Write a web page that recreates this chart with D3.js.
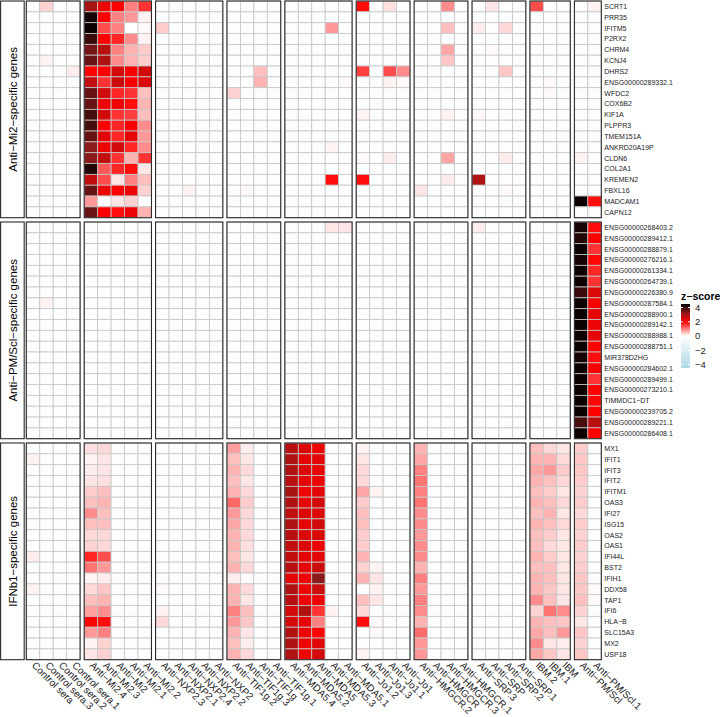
<!DOCTYPE html>
<html>
<head>
<meta charset="utf-8">
<script src="https://cdn.jsdelivr.net/npm/d3@7"></script>
<style>
body { margin: 0; background: #fff; }
svg text { font-family: "Liberation Sans", Arial, sans-serif; }
</style>
</head>
<body>
<svg id="chart" width="720" height="717"></svg>
<script>
// sample groups (column facets) and their samples, left to right
var sampleGroups = ["Control sera", "Anti-Mi2", "Anti-NXP2", "Anti-TIF1g", "Anti-MDA5", "Anti-Jo1", "Anti-HMGCR", "Anti-SRP", "IBM", "Anti-PM/Scl"];
var samples = [
    ["Control sera", "Control sera.3", "Control sera.2", "Control sera.1"],
    ["Anti-Mi2.4", "Anti-Mi2.3", "Anti-Mi2", "Anti-Mi2.1", "Anti-Mi2.2"],
    ["Anti-NXP2.3", "Anti-NXP2.1", "Anti-NXP2.4", "Anti-NXP2.2", "Anti-NXP2"],
    ["Anti-TIF1g.2", "Anti-TIF1g.3", "Anti-TIF1g", "Anti-TIF1g.1"],
    ["Anti-MDA5.4", "Anti-MDA5.2", "Anti-MDA5", "Anti-MDA5.3", "Anti-MDA5.1"],
    ["Anti-Jo1.2", "Anti-Jo1.3", "Anti-Jo1.1", "Anti-Jo1"],
    ["Anti-HMGCR.2", "Anti-HMGCR", "Anti-HMGCR.3", "Anti-HMGCR.1"],
    ["Anti-SRP.3", "Anti-SRP", "Anti-SRP.2", "Anti-SRP.1"],
    ["IBM.2", "IBM.1", "IBM"],
    ["Anti-PM/Scl", "Anti-PM/Scl.1"]
];

// gene groups (row facets)
var geneGroups = ["Anti-Mi2-specific genes", "Anti-PM/Scl-specific genes", "IFNb1-specific genes"];
var mi2Genes = ["SCRT1", "PRR35", "IFITM5", "P2RX2", "CHRM4", "KCNJ4", "DHRS2", "ENSG00000289332.1", "WFDC2", "COX6B2",
    "KIF1A", "PLPPR3", "TMEM151A", "ANKRD20A19P", "CLDN6", "COL2A1", "KREMEN2", "FBXL16", "MADCAM1", "CAPN12"];
var pmsclGenes = ["ENSG00000268403.2", "ENSG00000289412.1", "ENSG00000288879.1", "ENSG00000276216.1", "ENSG00000261334.1",
    "ENSG00000264739.1", "ENSG00000226380.9", "ENSG00000287584.1", "ENSG00000288900.1", "ENSG00000289142.1",
    "ENSG00000288988.1", "ENSG00000288751.1", "MIR378D2HG", "ENSG00000284602.1", "ENSG00000289499.1",
    "ENSG00000273210.1", "TIMMDC1-DT", "ENSG00000239705.2", "ENSG00000289221.1", "ENSG00000286408.1"];
var ifnGenes = ["MX1", "IFIT1", "IFIT3", "IFIT2", "IFITM1", "OAS3", "IFI27", "ISG15", "OAS2", "OAS1",
    "IFI44L", "BST2", "IFIH1", "DDX58", "TAP1", "IFI6", "HLA-B", "SLC15A3", "MX2", "USP18"];

// z-scores, one row per gene, columns in sample order
// Ctrl(4) | Mi2(5) | NXP2(5) | TIF1g(4) | MDA5(5) | Jo1(4) | HMGCR(4) | SRP(4) | IBM(3) | PM/Scl(2)
var mi2Z = [
    [-.2,.35,-.2,-.2, 3.0,2.2,2.0,1.0,1.6, -.2,-.2,-.2,-.2,-.2, -.2,-.2,-.2,-.2, -.2,-.2,-.2,-.2,-.2, 1.9,-.2,.25,-.2, -.2,-.2,.9,-.2, -.2,.2,-.2,-.2, 1.4,-.2,-.2, -.2,.1],
    [-.2,-.2,-.2,-.2, 4.3,2.0,1.0,.8,.1, -.2,-.2,-.2,-.2,-.2, -.2,-.2,-.2,-.2, -.2,-.2,-.2,-.2,-.2, -.2,-.2,-.2,-.2, -.2,-.2,-.2,-.2, -.2,-.2,-.2,-.2, -.2,-.2,-.2, -.2,-.2],
    [-.2,-.2,-.2,-.2, 4.4,1.4,1.0,0,.05, .4,-.2,-.2,-.2,-.2, -.2,-.2,-.2,-.2, -.2,-.2,-.2,.8,-.2, -.2,-.2,-.2,-.2, -.2,-.2,.5,-.2, .15,-.2,.3,-.2, -.2,-.2,-.2, -.2,-.2],
    [-.2,-.2,-.2,-.2, 4.0,2.0,1.7,.9,.1, -.2,-.2,-.2,-.2,-.2, -.2,-.2,-.2,-.2, -.2,-.2,-.2,-.2,-.2, -.2,-.2,-.2,-.2, -.2,-.2,-.2,-.2, -.2,-.2,-.2,-.2, -.2,-.2,-.2, -.2,-.2],
    [-.2,-.2,-.2,-.2, 3.5,2.8,1.0,.6,.4, -.2,-.2,-.2,-.2,-.2, -.2,-.2,-.2,-.2, -.2,-.2,-.2,-.2,-.2, -.2,-.2,-.2,-.2, -.2,-.2,.7,-.2, -.2,.05,-.2,-.2, -.2,-.2,-.2, -.2,-.2],
    [-.2,.1,-.2,-.2, 3.6,2.9,.9,.6,.4, -.2,-.2,-.2,-.2,-.2, -.2,-.2,-.2,-.2, -.2,-.2,-.2,-.2,-.2, -.2,-.2,-.2,-.2, -.2,-.2,.45,-.2, -.2,-.2,-.2,-.2, -.2,-.2,-.2, -.2,-.2],
    [-.2,-.2,-.2,.15, 2.0,2.05,2.5,2.1,2.5, -.2,-.2,-.2,-.2,-.2, -.2,-.2,.5,-.2, -.2,-.2,-.2,-.2,-.2, 1.5,-.2,1.4,.9, -.2,-.2,-.2,-.2, -.2,-.2,.45,-.2, -.2,-.2,-.2, -.2,-.2],
    [-.2,-.2,-.2,-.2, 2.7,1.6,2.6,2.1,2.4, -.2,-.2,-.2,-.2,-.2, -.2,-.2,.6,-.2, -.2,-.2,-.2,-.2,.05, -.2,-.2,.1,.05, -.2,-.2,-.2,-.2, -.2,-.2,-.2,-.2, -.2,.05,-.2, -.2,-.2],
    [-.2,-.2,-.2,-.2, 3.6,2.5,1.7,1.6,.5, -.2,-.2,-.2,-.2,-.2, .35,-.2,-.2,-.2, -.2,-.2,-.2,-.2,-.2, -.2,-.2,-.2,-.2, -.2,-.2,-.2,-.2, -.2,-.2,-.2,-.2, -.2,.05,-.2, -.2,-.2],
    [-.2,-.2,-.2,-.2, 3.6,2.2,2.2,1.9,.6, -.2,-.2,-.2,-.2,-.2, -.2,-.2,-.2,-.2, -.2,-.2,-.2,-.2,-.2, -.2,-.2,-.2,-.2, -.2,-.2,-.2,-.2, -.2,-.2,-.2,-.2, -.2,-.2,-.2, -.2,-.2],
    [-.2,-.2,-.2,-.2, 3.9,2.5,1.6,1.5,.5, -.2,-.2,-.2,-.2,-.2, -.2,-.2,-.2,-.2, -.2,-.2,-.2,-.2,-.2, .1,-.2,-.2,-.2, -.2,-.2,.1,-.2, .05,-.2,-.2,-.2, -.2,-.2,-.2, -.2,-.2],
    [-.2,-.2,-.2,-.2, 3.9,2.0,1.7,2.05,.9, -.2,-.2,-.2,-.2,-.2, -.2,-.2,-.2,-.2, -.2,-.2,-.2,-.2,-.2, -.2,-.2,-.2,-.2, -.2,-.2,-.2,-.2, -.2,-.2,-.2,-.2, -.2,-.2,-.2, -.2,-.2],
    [-.2,-.2,-.2,-.2, 3.6,2.3,1.7,2.3,.8, -.2,-.2,-.2,-.2,-.2, -.2,-.2,-.2,-.2, -.2,-.2,-.2,-.2,-.2, -.2,-.2,-.2,-.2, -.2,-.2,-.2,-.2, -.2,-.2,-.2,-.2, -.2,-.2,-.2, -.2,-.2],
    [-.2,-.2,-.2,-.2, 3.3,2.2,2.5,1.7,.9, -.2,-.2,-.2,-.2,-.2, -.2,-.2,-.2,-.2, -.2,-.2,-.2,.1,-.2, -.2,-.2,-.2,-.2, -.2,-.2,-.2,-.2, -.2,-.2,-.2,-.2, -.2,-.2,-.2, -.2,-.2],
    [-.2,-.2,-.2,-.2, 3.3,2.7,1.6,.6,1.6, -.2,-.2,-.2,-.2,-.2, -.2,-.2,-.2,-.2, -.2,-.2,-.2,-.2,-.2, .05,-.2,.15,-.2, -.2,-.2,.7,-.2, -.2,-.2,.15,-.2, -.2,-.2,-.2, .1,-.2],
    [-.2,-.2,-.2,-.2, 4.2,1.3,1.7,1.9,.2, -.2,-.2,-.2,-.2,-.2, -.2,-.2,-.2,-.2, -.2,-.2,-.2,-.2,-.2, -.2,-.2,-.2,-.2, -.2,-.2,-.2,-.2, -.2,-.2,-.2,-.2, -.2,-.2,-.2, -.2,-.2],
    [-.2,-.2,-.2,-.2, 2.7,1.4,.2,1.0,.5, -.2,-.2,-.2,-.2,-.2, -.2,-.2,-.2,-.2, -.2,-.2,-.2,1.9,-.2, 1.9,-.2,-.2,-.2, -.2,-.2,.15,-.2, 2.9,-.2,-.2,-.2, -.2,-.2,-.2, -.2,-.2],
    [-.2,-.2,-.2,-.2, 3.6,2.2,2.0,2.2,.35, -.2,-.2,.1,-.2,-.2, -.2,.05,-.2,-.2, -.2,-.2,-.2,-.2,-.2, -.2,-.2,-.2,-.2, .2,-.2,-.2,-.2, -.2,-.2,.05,-.2, -.2,-.2,-.2, -.2,-.2],
    [-.2,-.2,-.2,-.2, .8,0,.2,.35,0, -.2,-.2,-.2,-.2,-.2, -.2,-.2,-.2,-.2, -.2,-.2,-.2,-.2,-.2, -.2,-.2,-.2,-.2, -.2,-.2,-.2,-.2, -.2,-.2,-.2,-.2, -.2,-.2,-.2, 4.4,1.9],
    [-.2,-.2,-.2,-.2, 3.6,2.0,1.9,2.2,.6, -.2,-.2,-.2,-.2,-.2, -.2,-.2,-.2,-.2, -.2,-.2,-.2,-.2,-.2, -.2,-.2,-.2,-.2, -.2,-.2,-.2,-.2, -.2,-.2,-.2,-.2, -.2,-.2,-.2, -.2,-.2]
];
var pmsclZ = [
    [-.2,-.2,-.2,-.2, -.2,-.2,-.2,-.2,-.2, -.2,-.2,-.2,-.2,-.2, -.2,-.2,-.2,-.2, -.2,-.2,-.2,.2,.2, -.2,-.2,-.2,-.2, -.2,-.2,-.2,-.2, .15,-.2,-.2,-.2, -.2,-.2,-.2, 4.3,1.9],
    [-.2,-.2,-.2,-.2, -.2,-.2,-.2,-.2,-.2, -.2,-.2,-.2,-.2,-.2, -.2,-.2,-.2,-.2, -.2,-.2,-.2,-.2,-.2, -.2,-.2,-.2,-.2, -.2,-.2,-.2,-.2, -.2,-.2,-.2,-.2, -.2,-.2,-.2, 4.2,2.0],
    [-.2,-.2,-.2,-.2, -.2,-.2,-.2,-.2,-.2, -.2,-.2,-.2,-.2,-.2, -.2,-.2,-.2,-.2, -.2,-.2,-.2,-.2,-.2, -.2,-.2,-.2,-.2, -.2,-.2,-.2,-.2, -.2,-.2,-.2,-.2, -.2,-.2,-.2, 4.4,1.6],
    [-.2,-.2,-.2,-.2, -.2,-.2,-.2,-.2,-.2, -.2,-.2,-.2,-.2,-.2, -.2,-.2,-.2,-.2, -.2,-.2,-.2,-.2,-.2, -.2,-.2,-.2,-.2, -.2,-.2,-.2,-.2, -.2,-.2,-.2,-.2, -.2,-.2,-.2, 4.3,1.95],
    [-.2,-.2,-.2,-.2, -.2,-.2,-.2,-.2,-.2, -.2,-.2,-.2,-.2,-.2, -.2,-.2,-.2,-.2, -.2,-.2,-.2,-.2,-.2, -.2,-.2,-.2,-.2, -.2,-.2,-.2,-.2, -.2,-.2,-.2,-.2, -.2,-.2,-.2, 4.4,1.7],
    [-.2,-.2,-.2,-.2, -.2,-.2,-.2,-.2,-.2, -.2,-.2,-.2,-.2,-.2, -.2,-.2,-.2,-.2, -.2,-.2,-.2,-.2,-.2, -.2,-.2,-.2,-.2, -.2,-.2,-.2,-.2, -.2,-.2,-.2,-.2, -.2,-.2,-.2, 4.4,1.6],
    [-.2,-.2,-.2,-.2, -.2,-.2,-.2,-.2,-.2, -.2,-.2,-.2,-.2,-.2, -.2,-.2,-.2,-.2, -.2,-.2,-.2,-.2,-.2, -.2,-.2,-.2,-.2, -.2,-.2,-.2,-.2, -.2,-.2,-.2,-.2, -.2,-.2,-.2, 4.0,2.4],
    [-.2,.1,-.2,-.2, -.2,-.2,-.2,-.2,-.2, -.2,-.2,-.2,-.2,-.2, -.2,-.2,-.2,-.2, -.2,-.2,-.2,-.2,-.2, -.2,-.2,-.2,-.2, -.2,-.2,-.2,-.2, -.2,-.2,-.2,-.2, -.2,-.2,-.2, 4.4,2.1],
    [-.2,-.2,-.2,-.2, -.2,-.2,-.2,-.2,-.2, -.2,-.2,-.2,-.2,-.2, -.2,-.2,-.2,-.2, -.2,-.2,-.2,-.2,-.2, -.2,-.2,-.2,-.2, -.2,-.2,-.2,-.2, -.2,-.2,-.2,-.2, -.2,-.2,-.2, 4.4,2.3],
    [-.2,-.2,-.2,-.2, -.2,-.2,-.2,-.2,-.2, -.2,-.2,-.2,-.2,-.2, -.2,-.2,-.2,-.2, -.2,-.2,-.2,-.2,-.2, -.2,-.2,-.2,-.2, -.2,-.2,-.2,-.2, -.2,-.2,-.2,-.2, -.2,-.2,-.2, 4.4,2.2],
    [-.2,-.2,-.2,-.2, -.2,-.2,-.2,-.2,-.2, -.2,-.2,-.2,-.2,-.2, -.2,-.2,-.2,-.2, -.2,-.2,-.2,-.2,-.2, -.2,-.2,-.2,-.2, -.2,-.2,-.2,-.2, -.2,-.2,-.2,-.2, -.2,-.2,-.2, 4.4,2.3],
    [-.2,-.2,-.2,-.2, -.2,-.2,-.2,-.2,-.2, -.2,-.2,-.2,-.2,-.2, -.2,-.2,-.2,-.2, -.2,-.2,-.2,-.2,-.2, -.2,-.2,-.2,-.2, -.2,-.2,-.2,-.2, -.2,-.2,-.2,-.2, -.2,-.2,-.2, 4.4,2.0],
    [-.2,-.2,-.2,-.2, -.2,-.2,-.2,-.2,-.2, -.2,-.2,-.2,-.2,-.2, -.2,-.2,-.2,-.2, -.2,-.2,-.2,-.2,-.2, -.2,-.2,-.2,-.2, -.2,-.2,-.2,-.2, -.2,-.2,-.2,-.2, -.2,-.2,-.2, 4.3,1.9],
    [-.2,-.2,-.2,-.2, -.2,-.2,-.2,-.2,-.2, -.2,-.2,-.2,-.2,-.2, -.2,-.2,-.2,-.2, -.2,-.2,-.2,-.2,-.2, -.2,-.2,-.2,-.2, -.2,-.2,-.2,-.2, -.2,-.2,-.2,-.2, -.2,-.2,-.2, 4.4,2.1],
    [-.2,-.2,-.2,-.2, -.2,-.2,-.2,-.2,-.2, -.2,-.2,-.2,-.2,-.2, -.2,-.2,-.2,-.2, -.2,-.2,-.2,-.2,-.2, -.2,-.2,-.2,-.2, -.2,-.2,-.2,-.2, -.2,-.2,-.2,-.2, -.2,-.2,-.2, 4.4,1.6],
    [-.2,-.2,-.2,-.2, -.2,-.2,-.2,-.2,-.2, -.2,-.2,-.2,-.2,-.2, -.2,-.2,-.2,-.2, -.2,-.2,-.2,-.2,-.2, -.2,-.2,-.2,-.2, -.2,-.2,-.2,-.2, -.2,-.2,-.2,-.2, -.2,-.2,-.2, 4.4,2.0],
    [-.2,-.2,-.2,-.2, -.2,-.2,-.2,-.2,-.2, -.2,-.2,-.2,-.2,-.2, -.2,-.2,-.2,-.2, -.2,-.2,-.2,-.2,-.2, -.2,-.2,-.2,-.2, -.2,-.2,-.2,-.2, -.2,-.2,-.2,-.2, -.2,-.2,-.2, 4.4,1.95],
    [-.2,-.2,-.2,-.2, -.2,-.2,-.2,-.2,-.2, -.2,-.2,-.2,-.2,-.2, -.2,-.2,-.2,-.2, -.2,-.2,-.2,-.2,-.2, -.2,-.2,-.2,-.2, -.2,-.2,-.2,-.2, -.2,-.2,-.2,-.2, -.2,-.2,-.2, 4.4,2.0],
    [-.2,-.2,-.2,-.2, -.2,-.2,-.2,-.2,-.2, -.2,-.2,-.2,-.2,-.2, -.2,-.2,-.2,-.2, -.2,-.2,-.2,-.2,-.2, -.2,-.2,-.2,-.2, -.2,-.2,-.2,-.2, -.2,-.2,-.2,-.2, -.2,-.2,-.2, 3.9,2.8],
    [-.2,-.2,-.2,-.2, -.2,-.2,-.2,-.2,-.2, -.2,-.2,-.2,-.2,-.2, -.2,-.2,-.2,-.2, -.2,-.2,-.2,-.2,-.2, -.2,-.2,-.2,-.2, -.2,-.2,-.2,-.2, -.2,-.2,-.2,-.2, -.2,-.2,-.2, 4.4,2.0]
];
var ifnZ = [
    [-.2,-.2,-.2,-.2, .25,.3,-.2,-.2,-.2, -.2,-.2,-.2,-.2,-.2, .75,.15,-.2,-.2, 2.8,2.4,2.2,-.2,-.2, .1,-.2,-.2,-.2, .6,-.2,-.2,-.2, -.2,-.2,-.2,-.2, .5,.3,.2, .4,-.2],
    [.1,-.2,-.2,-.2, .1,.2,-.2,-.2,-.2, -.2,-.2,-.2,-.2,-.2, .5,.2,-.2,-.2, 2.9,2.3,2.3,-.2,-.2, .2,-.2,-.2,-.2, .7,-.2,-.2,-.2, -.2,-.2,-.2,-.2, .6,.6,.3, .45,-.2],
    [-.2,-.2,-.2,-.2, .15,.2,-.2,-.2,-.2, -.2,-.2,-.2,-.2,-.2, .6,.3,-.2,-.2, 2.9,2.4,2.3,-.2,-.2, .3,-.2,-.2,-.2, 1.0,-.2,-.2,-.2, -.2,-.2,-.2,-.2, .7,.8,.4, .45,-.2],
    [-.2,-.2,-.2,-.2, .2,.25,-.2,-.2,-.2, -.2,-.2,-.2,-.2,-.2, .5,.2,-.2,-.2, 2.8,2.3,2.2,-.2,-.2, .3,-.2,-.2,-.2, 1.1,-.2,-.2,-.2, -.2,-.2,-.2,-.2, .6,.5,.3, .4,-.2],
    [-.2,-.2,-.2,-.2, .4,.5,-.2,-.2,-.2, -.2,-.2,-.2,-.2,-.2, .6,.3,-.2,-.2, 3.0,2.2,2.3,-.2,-.2, .7,.1,-.2,-.2, 1.0,-.2,-.2,-.2, -.2,-.2,-.2,-.2, .5,.4,.2, .35,-.2],
    [-.2,-.2,-.2,-.2, .5,.6,-.2,-.2,-.2, -.2,-.2,-.2,-.2,-.2, 1.2,.4,-.2,-.2, 2.9,2.3,2.5,-.2,-.2, .4,-.2,-.2,-.2, 1.1,-.2,-.2,-.2, -.2,-.2,-.2,-.2, .6,.5,.3, .4,-.2],
    [-.2,-.2,-.2,-.2, .9,.5,-.2,-.2,-.2, -.2,-.2,-.2,-.2,-.2, .8,.3,-.2,-.2, 2.7,2.4,2.4,-.2,-.2, .5,-.2,-.2,-.2, .9,-.2,-.2,-.2, -.2,-.2,-.2,-.2, .5,.6,.2, .3,-.2],
    [-.2,-.2,-.2,-.2, .5,.5,-.2,-.2,-.2, -.2,-.2,-.2,-.2,-.2, .7,.3,-.2,-.2, 2.9,2.3,2.5,-.2,-.2, .5,-.2,-.2,-.2, .9,-.2,-.2,-.2, -.2,-.2,-.2,-.2, .6,.5,.3, .4,-.2],
    [-.2,-.2,-.2,-.2, .3,.3,-.2,-.2,-.2, -.2,-.2,-.2,-.2,-.2, .6,.3,-.2,-.2, 2.8,2.4,2.4,-.2,-.2, .4,-.2,-.2,-.2, .8,-.2,-.2,-.2, -.2,-.2,-.2,-.2, .5,.4,.2, .35,-.2],
    [-.2,-.2,-.2,-.2, .35,.3,-.2,-.2,-.2, -.2,-.2,-.2,-.2,-.2, .6,.25,-.2,-.2, 2.7,2.4,2.2,-.2,-.2, .4,-.2,-.2,-.2, .9,-.2,-.2,-.2, -.2,-.2,-.2,-.2, .5,.3,.2, .4,-.2],
    [.15,-.2,-.2,-.2, 1.7,1.4,-.2,-.2,-.2, -.2,-.2,-.2,-.2,-.2, .5,.2,-.2,-.2, 2.7,2.3,2.3,-.2,-.2, .6,-.2,-.2,-.2, .9,-.2,-.2,-.2, -.2,-.2,-.2,-.2, .6,.4,.2, .35,-.2],
    [-.2,-.2,-.2,-.2, 1.1,.8,-.2,-.2,-.2, -.2,-.2,-.2,-.2,-.2, .6,.3,-.2,-.2, 2.8,2.3,2.6,-.2,-.2, .35,.1,-.2,-.2, .6,-.2,-.2,-.2, -.2,-.2,-.2,-.2, .5,.5,.2, .4,-.2],
    [-.2,-.2,-.2,-.2, .1,.15,-.2,-.2,-.2, -.2,-.2,-.2,-.2,-.2, .15,.05,-.2,-.2, 2.3,2.2,3.3,-.2,-.2, .6,.2,-.2,-.2, 1.0,-.2,-.2,-.2, -.2,-.2,-.2,-.2, .6,.5,.2, .45,-.2],
    [.1,-.2,-.2,-.2, .3,.45,-.2,-.2,-.2, .05,-.2,-.2,-.2,-.2, .6,.3,-.2,-.2, 2.9,2.2,2.6,-.2,-.2, -.2,.1,-.2,-.2, .8,-.2,-.2,-.2, -.2,-.2,-.2,-.2, .6,.45,.2, .45,.05],
    [-.2,-.2,-.2,-.2, .5,.6,-.2,-.2,-.2, -.2,-.2,-.2,-.2,-.2, .6,.2,-.2,-.2, 2.8,2.2,2.2,-.2,-.2, .5,.2,-.2,-.2, 1.0,-.2,-.2,-.2, -.2,-.2,-.2,-.2, .9,.5,.2, .5,.05],
    [-.2,-.2,-.2,-.2, .75,.9,-.2,-.2,-.2, .1,-.2,-.2,-.2,-.2, 1.0,.5,-.2,-.2, 2.5,2.85,1.6,.1,-.2, .3,-.2,-.2,-.2, .9,-.2,-.2,-.2, -.2,-.2,-.2,-.2, .35,1.1,.9, .35,-.2],
    [-.2,-.2,-.2,-.2, 2.05,1.9,-.2,-.2,-.2, .3,-.2,-.2,-.2,-.2, .8,.45,-.2,-.2, 2.5,2.3,1.0,-.2,-.2, 1.9,.05,-.2,-.2, .6,-.2,-.2,-.2, -.2,-.2,-.2,-.2, .6,.5,.45, .2,-.2],
    [-.2,-.2,-.2,-.2, .8,1.0,-.2,-.2,-.2, -.2,-.2,-.2,-.2,-.2, .6,.2,-.2,-.2, 2.85,2.2,2.05,-.2,-.2, -.2,.05,-.2,-.2, 1.15,-.2,-.2,-.2, -.2,-.2,-.2,-.2, .7,.5,.8, .45,-.2],
    [-.2,-.2,-.2,-.2, .1,.35,-.2,-.2,-.2, -.2,-.2,-.2,-.2,-.2, .5,.15,-.2,-.2, 2.9,2.2,2.35,-.2,-.2, -.2,-.2,-.2,-.2, .8,-.2,-.2,-.2, -.2,-.2,-.2,-.2, .9,.2,.15, .35,-.2],
    [-.2,-.2,-.2,-.2, .2,.35,-.2,-.2,-.2, -.2,-.2,-.2,-.2,-.2, .6,.3,-.2,-.2, 2.9,2.2,2.5,-.2,-.2, .1,-.2,-.2,-.2, .8,-.2,-.2,-.2, -.2,-.2,-.2,-.2, .7,.45,.2, .45,-.2]
];
var legendTicks = [4, 2, 0, -2, -4];

var genes = [mi2Genes, pmsclGenes, ifnGenes];
var zRows = [mi2Z, pmsclZ, ifnZ];

var svg = d3.select("#chart");
var plotLeft = 26.3, plotRight = 601.3, colGap = 4.1;
var plotTop = 1, panelH = 216.7, rowGap = 4.3;
var nCols = d3.sum(samples, function (s) { return s.length; });
var cellW = (plotRight - plotLeft - (samples.length - 1) * colGap) / nCols;

var color = d3.scaleLinear()
    .domain([-4.5, 0, 2, 3.3, 4.5])
    .range(["#add8e6", "#ffffff", "#ff0000", "#8b1a1a", "#000000"])
    .interpolate(d3.interpolateRgb)
    .clamp(true);

function minus(s) { return s.replace(/-/g, "\u2212"); }

/*
 * one band scale per column facet
 */
var xScales = [];
var offset = 0;
samples.forEach(function (s, gi) {
    var x0 = plotLeft + offset * cellW + gi * colGap;
    xScales.push(d3.scaleBand().domain(s).range([x0, x0 + s.length * cellW]));
    offset += s.length;
});

/*
 * draws a row facet: cells, panel borders, strip and gene labels
 */
function drawRowGroup(ri) {
    var y0 = plotTop + ri * (panelH + rowGap);
    var y = d3.scaleBand().domain(genes[ri]).range([y0, y0 + panelH]);
    var g = svg.append("g").attr("class", "rowgroup");

    var cells = [];
    zRows[ri].forEach(function (row, i) {
        var c = 0;
        samples.forEach(function (s, gi) {
            s.forEach(function (name) {
                cells.push({ gene: genes[ri][i], group: gi, sample: name, z: row[c] });
                c++;
            });
        });
    });

    g.append("g")
        .selectAll("rect.cell")
        .data(cells)
        .enter().append("rect")
        .attr("class", "cell")
        .attr("x", function (d) { return xScales[d.group](d.sample); })
        .attr("y", function (d) { return y(d.gene); })
        .attr("width", cellW)
        .attr("height", y.bandwidth())
        .attr("fill", function (d) { return color(d.z); })
        .attr("stroke", "#c6c6c6")
        .attr("stroke-width", 0.8);

    g.append("g")
        .selectAll("rect.panel")
        .data(xScales)
        .enter().append("rect")
        .attr("class", "panel")
        .attr("x", function (d) { return d.range()[0]; })
        .attr("y", y0)
        .attr("width", function (d) { return d.range()[1] - d.range()[0]; })
        .attr("height", panelH)
        .attr("fill", "none")
        .attr("stroke", "#2b2b2b")
        .attr("stroke-width", 1.1);

    // strip on the left
    g.append("rect")
        .attr("x", 0.6)
        .attr("y", y0)
        .attr("width", 23.6)
        .attr("height", panelH)
        .attr("fill", "#ffffff")
        .attr("stroke", "#2b2b2b")
        .attr("stroke-width", 1.1);
    g.append("text")
        .attr("transform", "translate(16.5," + (y0 + panelH / 2) + ") rotate(-90)")
        .attr("text-anchor", "middle")
        .style("font-size", "11.5px")
        .attr("fill", "#000000")
        .text(minus(geneGroups[ri]));

    // gene labels on the right
    g.append("g")
        .selectAll("text")
        .data(genes[ri])
        .enter().append("text")
        .attr("x", plotRight + 3)
        .attr("y", function (d) { return y(d) + y.bandwidth() / 2; })
        .attr("dy", "0.35em")
        .style("font-size", "7px")
        .attr("fill", "#222222")
        .text(function (d) { return minus(d); });
}

[0, 1, 2].forEach(drawRowGroup);

/*
 * rotated sample labels along the bottom
 */
var plotBottom = plotTop + 3 * panelH + 2 * rowGap;
var labels = [];
samples.forEach(function (s, gi) {
    s.forEach(function (name) { labels.push({ group: gi, sample: name }); });
});
svg.append("g")
    .selectAll("text")
    .data(labels)
    .enter().append("text")
    .attr("transform", function (d) {
        var cx = xScales[d.group](d.sample) + cellW / 2;
        return "translate(" + cx + "," + (plotBottom + 3) + ") rotate(45)";
    })
    .attr("dy", "0.35em")
    .attr("x", 1)
    .style("font-size", "10px")
    .attr("fill", "#222222")
    .text(function (d) { return minus(d.sample); });

/*
 * colour bar legend
 */
var legY = d3.scaleLinear().domain([-4.5, 4.5]).range([368, 304]);
var defs = svg.append("defs");
var grad = defs.append("linearGradient")
    .attr("id", "zgrad")
    .attr("x1", 0).attr("y1", 1).attr("x2", 0).attr("y2", 0);
grad.selectAll("stop")
    .data(d3.range(0, 1.0001, 0.05))
    .enter().append("stop")
    .attr("offset", function (d) { return d; })
    .attr("stop-color", function (d) { return color(-4.5 + 9 * d); });

var legX = 681;
svg.append("text")
    .attr("x", legX)
    .attr("y", 300)
    .style("font-size", "10.5px")
    .style("font-weight", "bold")
    .attr("fill", "#000000")
    .text("z\u2212score");
svg.append("rect")
    .attr("x", legX)
    .attr("y", legY(4.5))
    .attr("width", 9)
    .attr("height", legY(-4.5) - legY(4.5))
    .attr("fill", "url(#zgrad)");
var tk = svg.append("g").selectAll("g")
    .data(legendTicks)
    .enter().append("g");
tk.append("line")
    .attr("x1", legX).attr("x2", legX + 2)
    .attr("y1", function (d) { return legY(d); })
    .attr("y2", function (d) { return legY(d); })
    .attr("stroke", "#ffffff");
tk.append("line")
    .attr("x1", legX + 7).attr("x2", legX + 9)
    .attr("y1", function (d) { return legY(d); })
    .attr("y2", function (d) { return legY(d); })
    .attr("stroke", "#ffffff");
tk.append("text")
    .attr("x", legX + 14)
    .attr("y", function (d) { return legY(d); })
    .attr("dy", "0.35em")
    .style("font-size", "9.5px")
    .attr("fill", "#222222")
    .text(function (d) { return d < 0 ? "\u2212" + Math.abs(d) : d; });
</script>
</body>
</html>
